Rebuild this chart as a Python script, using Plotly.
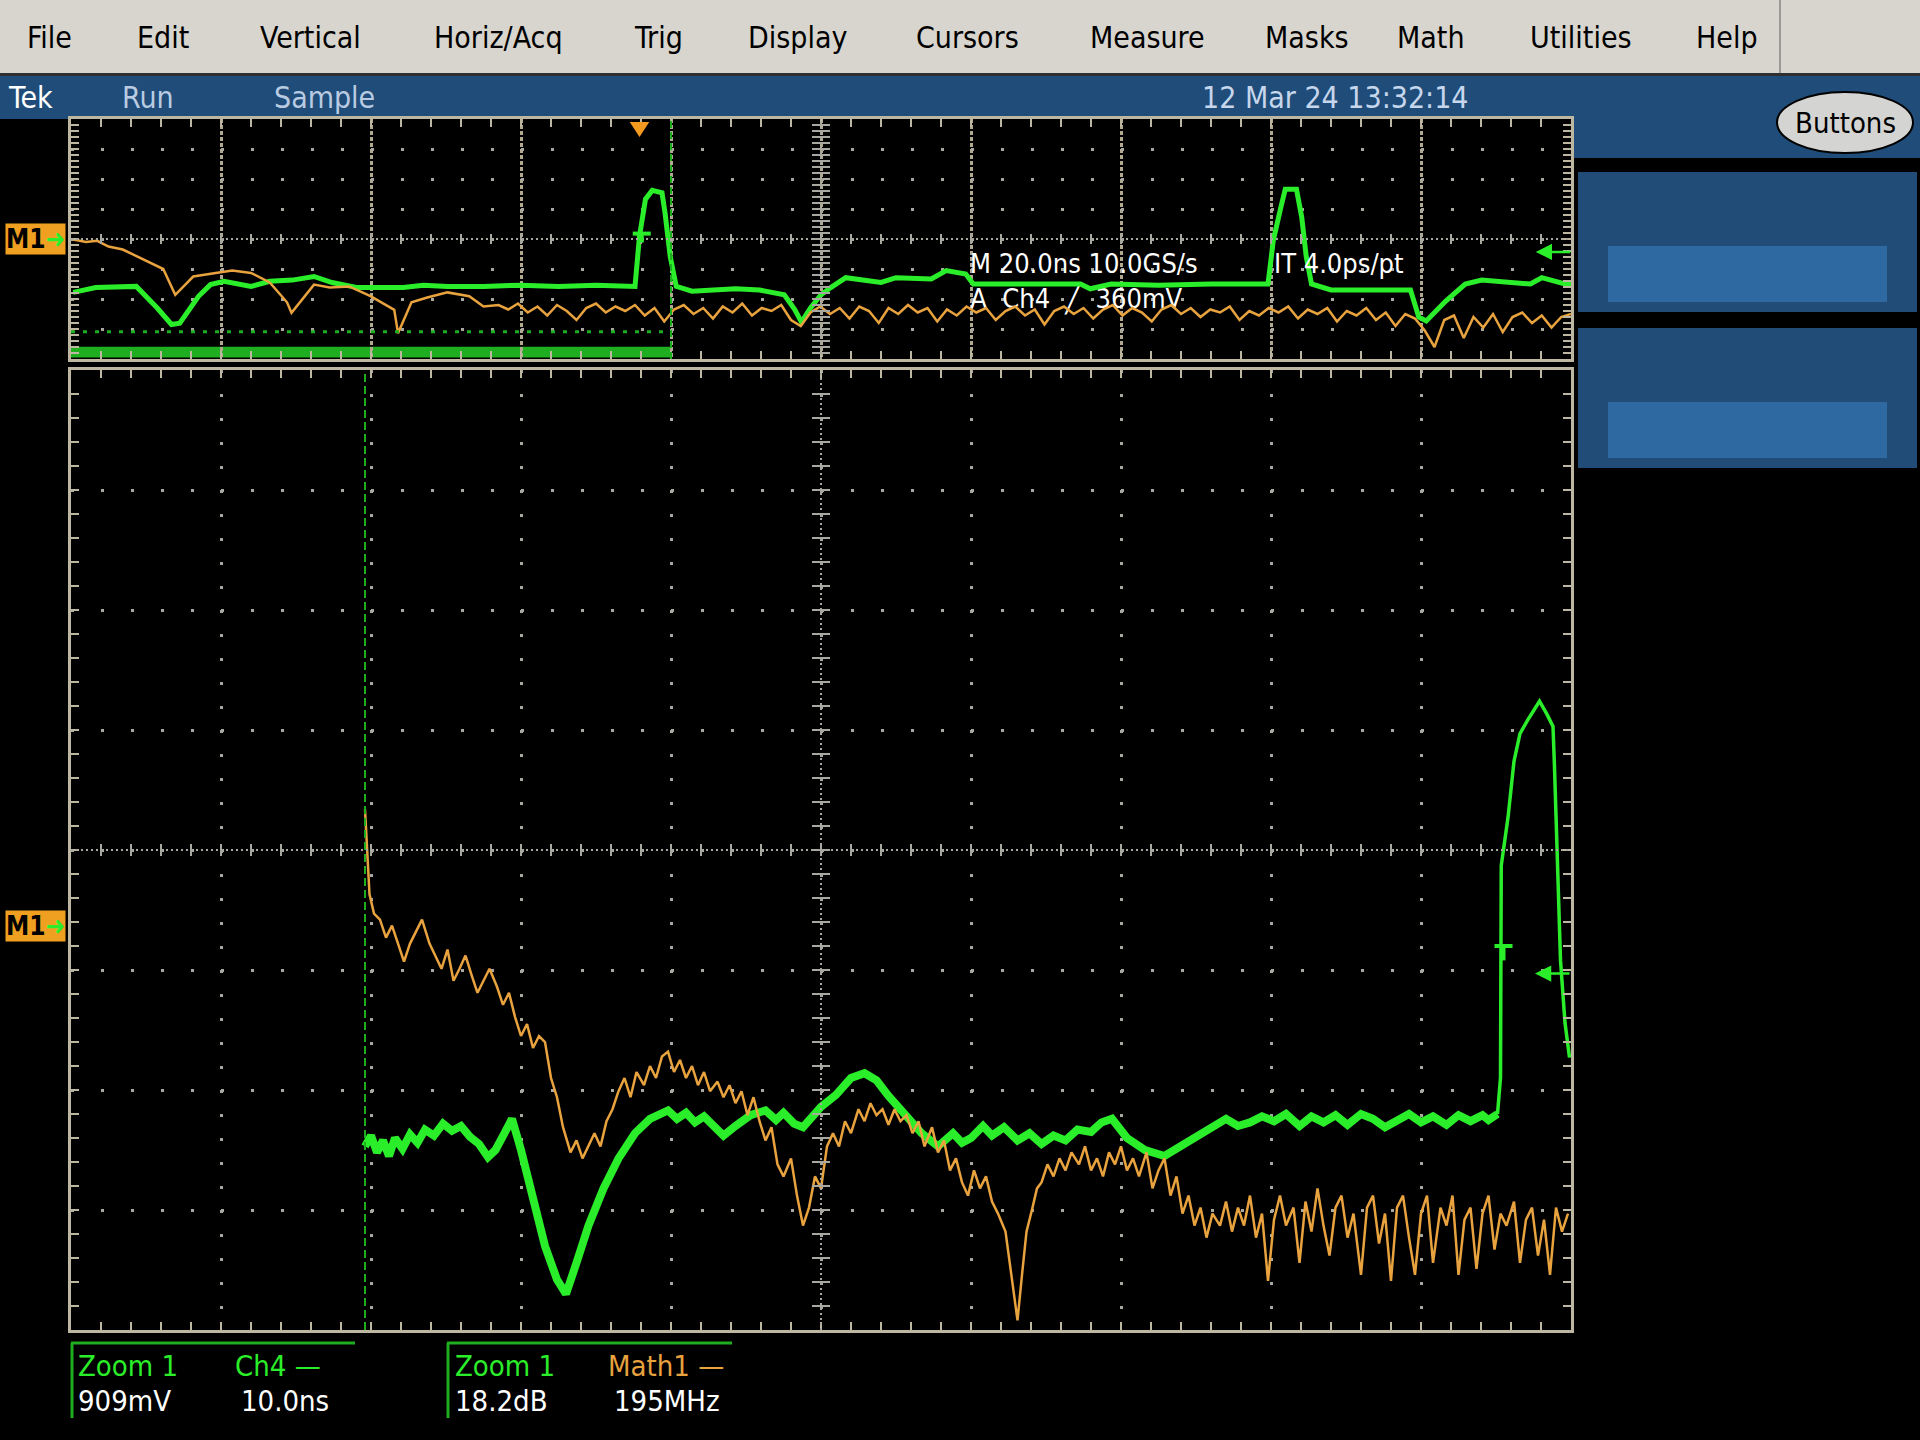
import plotly.graph_objects as go

W, H = 1920, 1440
FONT = "Liberation Sans Narrow, DejaVu Sans Condensed, Arial Narrow, sans-serif"

GREEN = "#2bee2b"
DKGREEN = "#1fae1f"
ORANGE = "#e8a23e"
GRID = "#a8a8a0"
FRAME = "#bdb6a0"
BLUE = "#1f4c78"

# ---- texts ----
MENU_ITEMS = ["File", "Edit", "Vertical", "Horiz/Acq", "Trig", "Display",
              "Cursors", "Measure", "Masks", "Math", "Utilities", "Help"]
STATUS_ITEMS = ["Tek", "Run", "Sample"]
DATE_STAMP = "12 Mar 24 13:32:14"
READOUT_1 = "M 20.0ns 10.0GS/s"
READOUT_2 = "IT 4.0ps/pt"
READOUT_3 = "A  Ch4  ╱  360mV"
ZOOM_CH4 = ["Zoom 1", "Ch4 —", "909mV", "10.0ns"]
ZOOM_MATH1 = ["Zoom 1", "Math1 —", "18.2dB", "195MHz"]

# ---- overview record (top window), t in ns (20 ns/div), v in divisions ----
OV_CH4 = [
    (0.3, -1.78), (3.3, -1.62), (8.7, -1.58), (9.8, -1.86), (11.5, -2.30), (13.4, -2.85),
    (14.5, -2.81), (17.0, -1.91), (18.6, -1.52), (20.4, -1.41), (24.0, -1.58), (26.5, -1.41),
    (29.5, -1.37), (32.4, -1.25), (34.8, -1.45), (38.2, -1.62), (44.3, -1.62), (47.0, -1.54),
    (50.2, -1.58), (55.0, -1.58), (60.0, -1.54), (65.0, -1.58), (70.0, -1.54), (75.2, -1.58),
    (75.8, 0.10), (76.6, 1.33), (77.5, 1.62), (78.8, 1.54), (79.2, 0.88), (79.9, -0.59),
    (80.7, -1.58), (82.8, -1.74), (88.6, -1.66), (91.8, -1.70), (95.1, -1.86), (96.5, -2.35),
    (97.4, -2.77), (98.6, -2.30), (100.0, -1.86), (101.3, -1.62), (103.3, -1.29), (108.0, -1.45),
    (110.0, -1.29), (114.7, -1.33), (116.7, -1.05), (119.3, -1.17), (120.3, -1.50), (127.0, -1.50),
    (134.6, -1.50), (135.9, -1.66), (138.7, -1.50), (145.0, -1.54), (152.0, -1.50), (159.6, -1.50),
    (160.3, -0.06), (161.3, 1.04), (161.9, 1.66), (163.4, 1.66), (164.1, 0.72), (164.7, -0.59),
    (165.4, -1.50), (168.0, -1.70), (173.0, -1.70), (178.6, -1.70), (179.7, -2.60), (180.7, -2.73),
    (183.3, -2.07), (185.9, -1.50), (188.1, -1.37), (194.6, -1.50), (196.1, -1.29), (199.2, -1.50),
    (200.0, -1.50),
]
OV_MATH1 = [
    (0.3, -0.02), (2.0, -0.10), (3.5, -0.06), (5.0, -0.25), (6.9, -0.35), (8.7, -0.57),
    (10.5, -0.80), (12.3, -1.00), (13.9, -1.86), (16.3, -1.25), (19.3, -1.13), (21.5, -1.05),
    (24.0, -1.13), (26.5, -1.45), (28.8, -2.11), (29.4, -2.46), (32.4, -1.52), (34.5, -1.62),
    (37.1, -1.58), (40.0, -1.91), (43.1, -2.36), (43.6, -3.14), (45.4, -2.11), (47.5, -1.95),
    (50.2, -1.78), (53.1, -1.91), (55.0, -2.25),
    (57.0, -2.20), (58.3, -2.35), (59.6, -2.15), (60.9, -2.45), (62.2, -2.25), (63.5, -2.55),
    (64.8, -2.20), (66.1, -2.40), (67.4, -2.70), (68.7, -2.30), (70.0, -2.15), (71.3, -2.45),
    (72.6, -2.25), (73.9, -2.40), (75.2, -2.20), (76.5, -2.55), (77.8, -2.30), (79.1, -2.75),
    (80.4, -2.35), (81.7, -2.20), (83.0, -2.50), (84.3, -2.30), (85.6, -2.65), (86.9, -2.25),
    (88.2, -2.45), (89.5, -2.15), (90.8, -2.55), (92.1, -2.30), (93.4, -2.40), (94.7, -2.20),
    (96.0, -2.70), (97.3, -2.90), (98.6, -2.45), (99.9, -2.25), (101.2, -2.50), (102.5, -2.30),
    (103.8, -2.65), (105.1, -2.25), (106.4, -2.40), (107.7, -2.80), (109.0, -2.30), (110.3, -2.50),
    (111.6, -2.20), (112.9, -2.45), (114.2, -2.30), (115.5, -2.75), (116.8, -2.35), (118.1, -2.55),
    (119.4, -2.25), (120.7, -2.45), (122.0, -2.30), (123.3, -2.70), (124.6, -2.40), (125.9, -2.25),
    (127.2, -2.55), (128.5, -2.35), (129.8, -2.85), (131.1, -2.40), (132.4, -2.25), (133.7, -2.50),
    (135.0, -2.30), (136.3, -2.65), (137.6, -2.35), (138.9, -2.20), (140.2, -2.55), (141.5, -2.30),
    (142.8, -2.45), (144.1, -2.75), (145.4, -2.35), (146.7, -2.20), (148.0, -2.50), (149.3, -2.30),
    (150.6, -2.60), (151.9, -2.35), (153.2, -2.45), (154.5, -2.25), (155.8, -2.70), (157.1, -2.40),
    (158.4, -2.55), (159.7, -2.30), (161.0, -2.45), (162.3, -2.25), (163.6, -2.65), (164.9, -2.35),
    (166.2, -2.50), (167.5, -2.30), (168.8, -2.75), (170.1, -2.40), (171.4, -2.55), (172.7, -2.30),
    (174.0, -2.70), (175.3, -2.45), (176.6, -2.90), (177.9, -2.50), (179.2, -2.65), (180.5, -3.05),
    (181.8, -3.60), (183.1, -2.70), (184.4, -2.55), (185.7, -3.30), (187.0, -2.60), (188.3, -2.95),
    (189.6, -2.50), (190.9, -3.10), (192.2, -2.60), (193.5, -2.45), (194.8, -2.80), (196.1, -2.55),
    (197.4, -2.95), (198.7, -2.60), (200.0, -2.50),
]

# ---- zoom window (bottom), t in ns (10 ns/div), v in divisions ----
ZM_CH4 = [
    (19.6, -2.47), (20.0, -2.38), (20.4, -2.52), (20.8, -2.42), (21.2, -2.55), (21.6, -2.40),
    (22.1, -2.49), (22.6, -2.37), (23.1, -2.44), (23.6, -2.33), (24.2, -2.38), (24.8, -2.28),
    (25.4, -2.34), (26.0, -2.30), (26.6, -2.39), (27.2, -2.45), (27.8, -2.56), (28.3, -2.50),
    (28.9, -2.36), (29.4, -2.24), (30.0, -2.50), (30.8, -2.93), (31.6, -3.30), (32.4, -3.58),
    (33.0, -3.70), (33.7, -3.44), (34.5, -3.13), (35.5, -2.82), (36.5, -2.57), (37.6, -2.36),
    (38.6, -2.24), (39.8, -2.17), (40.4, -2.24), (41.0, -2.19), (41.6, -2.27), (42.2, -2.22),
    (42.9, -2.30), (43.5, -2.38), (44.3, -2.30), (45.3, -2.21), (46.3, -2.17), (47.0, -2.25),
    (47.5, -2.19), (48.2, -2.28), (48.8, -2.31), (49.4, -2.22), (50.0, -2.14), (51.0, -2.04),
    (52.0, -1.90), (52.9, -1.86), (53.7, -1.92), (54.5, -2.05), (55.6, -2.21), (56.7, -2.36),
    (57.8, -2.47), (58.8, -2.36), (59.4, -2.44), (60.0, -2.40), (60.8, -2.30), (61.4, -2.38),
    (62.2, -2.31), (63.1, -2.42), (63.9, -2.36), (64.7, -2.45), (65.5, -2.38), (66.3, -2.42),
    (67.1, -2.33), (68.0, -2.35), (68.7, -2.27), (69.4, -2.24), (70.4, -2.40), (71.6, -2.50),
    (72.9, -2.55), (74.1, -2.46), (75.3, -2.38), (76.2, -2.30), (77.0, -2.24), (77.8, -2.30),
    (78.6, -2.27), (79.4, -2.22), (80.2, -2.26), (81.0, -2.20), (81.9, -2.30), (82.7, -2.22),
    (83.5, -2.27), (84.3, -2.21), (85.1, -2.29), (86.0, -2.20), (86.8, -2.24), (87.6, -2.31),
    (88.4, -2.25), (89.2, -2.20), (90.0, -2.27), (90.8, -2.22), (91.7, -2.29), (92.5, -2.21),
    (93.3, -2.26), (94.1, -2.21), (94.5, -2.25), (95.1, -2.20),
    (95.3, -1.90), (95.35, -0.13), (95.8, 0.27), (96.2, 0.74), (96.6, 0.97), (97.1, 1.08),
    (97.9, 1.24), (98.4, 1.13), (98.8, 1.03), (98.9, 0.69), (99.1, -0.15), (99.3, -0.92),
    (99.6, -1.44), (99.9, -1.73),
]
ZM_MATH1 = [
    (19.6, 0.34), (19.8, -0.07), (19.9, -0.37), (20.2, -0.53), (20.6, -0.58), (21.0, -0.73),
    (21.4, -0.63), (21.8, -0.78), (22.2, -0.93), (22.6, -0.78), (23.0, -0.68), (23.4, -0.58),
    (23.9, -0.78), (24.3, -0.88), (24.7, -0.99), (25.1, -0.83), (25.5, -1.09), (25.9, -0.99),
    (26.3, -0.88), (26.7, -1.04), (27.1, -1.19), (27.5, -1.09), (27.9, -0.99), (28.4, -1.14),
    (28.8, -1.29), (29.2, -1.19), (29.6, -1.39), (30.0, -1.55), (30.4, -1.45), (30.8, -1.65),
    (31.2, -1.55), (31.6, -1.60), (32.0, -1.90), (32.4, -2.06), (32.8, -2.31), (33.3, -2.52),
    (33.7, -2.42), (34.1, -2.57), (34.5, -2.47), (34.9, -2.36), (35.3, -2.47), (35.7, -2.26),
    (36.1, -2.16), (36.5, -2.01), (36.9, -1.90), (37.3, -2.06), (37.7, -1.85), (38.2, -1.96),
    (38.6, -1.80), (39.0, -1.90), (39.4, -1.72), (39.8, -1.68), (40.2, -1.85), (40.6, -1.75),
    (41.0, -1.90), (41.4, -1.80), (41.8, -1.96), (42.2, -1.85), (42.6, -2.01), (43.1, -1.93),
    (43.5, -2.06), (43.9, -1.96), (44.3, -2.11), (44.7, -2.01), (45.1, -2.21), (45.5, -2.06),
    (45.9, -2.26), (46.3, -2.42), (46.7, -2.31), (47.1, -2.62), (47.5, -2.72), (48.0, -2.57),
    (48.4, -2.88), (48.8, -3.13), (49.2, -2.98), (49.6, -2.72), (50.0, -2.82), (50.4, -2.47),
    (50.8, -2.36), (51.2, -2.47), (51.6, -2.26), (52.0, -2.36), (52.5, -2.16), (52.9, -2.26),
    (53.3, -2.11), (53.7, -2.21), (54.1, -2.16), (54.5, -2.29), (54.9, -2.16), (55.3, -2.26),
    (55.7, -2.21), (56.1, -2.36), (56.5, -2.26), (56.9, -2.47), (57.4, -2.31), (57.8, -2.52),
    (58.2, -2.42), (58.6, -2.67), (59.0, -2.57), (59.4, -2.77), (59.8, -2.88), (60.2, -2.67),
    (60.6, -2.82), (61.0, -2.72), (61.4, -2.93), (61.8, -3.03), (62.3, -3.18), (62.7, -3.54),
    (63.1, -3.92), (63.4, -3.54), (63.7, -3.18), (64.1, -2.98), (64.4, -2.82), (64.7, -2.77),
    (65.1, -2.62), (65.5, -2.72), (65.9, -2.57), (66.3, -2.67), (66.7, -2.52), (67.2, -2.62),
    (67.6, -2.47), (68.0, -2.67), (68.4, -2.57), (68.8, -2.72), (69.2, -2.52), (69.6, -2.62),
    (70.0, -2.47), (70.4, -2.67), (70.8, -2.57), (71.2, -2.72), (71.7, -2.52), (72.1, -2.82),
    (72.5, -2.67), (72.9, -2.57), (73.3, -2.88), (73.7, -2.72), (74.1, -3.03), (74.5, -2.88),
    (74.9, -3.13), (75.3, -2.98), (75.7, -3.23), (76.1, -3.03), (76.6, -3.13), (77.0, -2.93),
    (77.4, -3.18), (77.8, -2.98), (78.2, -3.13), (78.6, -2.88), (79.0, -3.23), (79.4, -3.03),
    (79.8, -3.59), (80.2, -3.08), (80.6, -2.88), (81.0, -3.13), (81.5, -2.98), (81.9, -3.44),
    (82.3, -2.93), (82.7, -3.18), (83.1, -2.82), (83.5, -3.13), (83.9, -3.38), (84.3, -2.98),
    (84.7, -2.88), (85.1, -3.23), (85.5, -3.03), (86.0, -3.54), (86.4, -2.98), (86.8, -2.88),
    (87.2, -3.28), (87.6, -3.03), (88.0, -3.59), (88.4, -2.98), (88.8, -2.88), (89.2, -3.23),
    (89.6, -3.54), (90.0, -3.03), (90.4, -2.88), (90.8, -3.44), (91.3, -2.98), (91.7, -3.13),
    (92.1, -2.88), (92.5, -3.54), (92.9, -3.08), (93.3, -2.98), (93.7, -3.49), (94.1, -3.03),
    (94.5, -2.88), (94.9, -3.33), (95.3, -3.03), (95.7, -3.13), (96.2, -2.93), (96.6, -3.44),
    (97.0, -3.08), (97.4, -2.98), (97.8, -3.38), (98.2, -3.08), (98.6, -3.54), (99.0, -2.98),
    (99.4, -3.18), (99.8, -3.03),
]


def pxx(x):
    return x / W


def pxy(y):
    return 1 - y / H


# screen geometry in pixels
X0, X1 = 71, 1571
TOP0, TOP1 = 119, 359
BOT0, BOT1 = 370, 1330

fig = go.Figure()

# readout line that the traces run over
fig.add_trace(go.Scatter(x=[119.9], y=[-2.07], mode="text", text=[READOUT_3],
                         textposition="middle right",
                         textfont=dict(color="white", size=27, family=FONT),
                         xaxis="x", yaxis="y", hoverinfo="skip", showlegend=False))

ov_t, ov_v = zip(*OV_CH4)
fig.add_trace(go.Scatter(x=ov_t, y=ov_v, mode="lines", line=dict(color=GREEN, width=5),
                         xaxis="x", yaxis="y", hoverinfo="skip", showlegend=False))
ov_t, ov_v = zip(*OV_MATH1)
fig.add_trace(go.Scatter(x=ov_t, y=ov_v, mode="lines", line=dict(color=ORANGE, width=2.5),
                         xaxis="x", yaxis="y", hoverinfo="skip", showlegend=False))

# zoom Ch4: noisy baseline is a thick band, the fast edge is thin
split = next(i for i, p in enumerate(ZM_CH4) if p[0] >= 95.1)
zt, zv = zip(*ZM_CH4[:split + 1])
fig.add_trace(go.Scatter(x=zt, y=zv, mode="lines", line=dict(color=GREEN, width=8),
                         xaxis="x2", yaxis="y2", hoverinfo="skip", showlegend=False))
zt, zv = zip(*ZM_CH4[split:])
fig.add_trace(go.Scatter(x=zt, y=zv, mode="lines", line=dict(color=GREEN, width=3.5),
                         xaxis="x2", yaxis="y2", hoverinfo="skip", showlegend=False))
zt, zv = zip(*ZM_MATH1)
fig.add_trace(go.Scatter(x=zt, y=zv, mode="lines", line=dict(color=ORANGE, width=2.5),
                         xaxis="x2", yaxis="y2", hoverinfo="skip", showlegend=False))

axis_common = dict(showticklabels=False, zeroline=False, showline=True, linecolor=FRAME,
                   linewidth=3, mirror="ticks", ticks="inside", ticklen=8, tickwidth=2,
                   tickcolor=FRAME, showgrid=True, gridwidth=2.5)

fig.update_layout(
    width=W, height=H, margin=dict(l=0, r=0, t=0, b=0),
    paper_bgcolor="black", plot_bgcolor="black", showlegend=False,
    xaxis=dict(domain=[pxx(X0), pxx(X1)], range=[0, 200], dtick=20, anchor="y",
               gridcolor="#b0a98f", griddash="4px,2px",
               minor=dict(dtick=4, ticks="inside", ticklen=8, tickwidth=2, tickcolor=FRAME),
               **axis_common),
    yaxis=dict(domain=[pxy(TOP1), pxy(TOP0)], range=[-4, 4], dtick=1, anchor="x",
               gridcolor=GRID, griddash="3px,27px",
               minor=dict(dtick=0.2, ticks="inside", ticklen=8, tickwidth=2, tickcolor=FRAME),
               **axis_common),
    xaxis2=dict(domain=[pxx(X0), pxx(X1)], range=[0, 100], dtick=10, anchor="y2",
                gridcolor=GRID, griddash="3px,21px",
                minor=dict(dtick=2, ticks="inside", ticklen=8, tickwidth=2, tickcolor=FRAME),
                **axis_common),
    yaxis2=dict(domain=[pxy(BOT1), pxy(BOT0)], range=[-4, 4], dtick=1, anchor="x2",
                gridcolor=GRID, griddash="3px,27px",
                minor=dict(dtick=0.2, ticks="inside", ticklen=8, tickwidth=2, tickcolor=FRAME),
                **axis_common),
)

shapes = []


def rect(x0, y0, x1, y1, fill, line=None, kind="rect"):
    shapes.append(dict(type=kind, xref="paper", yref="paper",
                       x0=pxx(x0), x1=pxx(x1), y0=pxy(y1), y1=pxy(y0),
                       fillcolor=fill, line=line or dict(width=0), layer="below"))


# menu bar, status bar and side panel
rect(0, 0, W, 73, "#d8d5ce")
rect(0, 73, W, 76, "#303030")
rect(0, 76, W, 119, BLUE)
rect(1573, 119, W, 158, BLUE)
rect(1578, 172, 1917, 312, "#214c77")
rect(1608, 246, 1887, 302, "#2f69a2")
rect(1578, 328, 1917, 468, "#214c77")
rect(1608, 402, 1887, 458, "#2f69a2")
shapes.append(dict(type="line", xref="paper", yref="paper", x0=pxx(1780), x1=pxx(1780),
                   y0=pxy(73), y1=pxy(0), line=dict(color="#9c9a94", width=2)))
shapes.append(dict(type="circle", xref="paper", yref="paper", x0=pxx(1777), x1=pxx(1913),
                   y0=pxy(153), y1=pxy(92), fillcolor="#d4d4d2",
                   line=dict(color="black", width=2)))


def centre_cross(xa, ya, xr, xstep, xhalf, yhalf):
    xm = (xr[0] + xr[1]) / 2
    dash = dict(color=GRID, width=2, dash="2px,3px")
    shapes.append(dict(type="line", xref=xa, yref=ya, x0=xr[0], x1=xr[1], y0=0, y1=0, line=dash))
    shapes.append(dict(type="line", xref=xa, yref=ya, x0=xm, x1=xm, y0=-4, y1=4, line=dash))
    tick = dict(color=GRID, width=2)
    for i in range(1, 50):
        x = xr[0] + i * xstep
        shapes.append(dict(type="line", xref=xa, yref=ya, x0=x, x1=x, y0=-yhalf, y1=yhalf, line=tick))
    for i in range(1, 40):
        y = -4 + i * 0.2
        shapes.append(dict(type="line", xref=xa, yref=ya, x0=xm - xhalf, x1=xm + xhalf, y0=y, y1=y, line=tick))


centre_cross("x", "y", (0, 200), 4, 1.2, 0.17)
centre_cross("x2", "y2", (0, 100), 2, 0.6, 0.05)

# zoom-region markers in the overview
shapes.append(dict(type="rect", xref="x", yref="y", x0=0, x1=80, y0=-3.95, y1=-3.59,
                   fillcolor=DKGREEN, line=dict(width=0), layer="below"))
shapes.append(dict(type="line", xref="x", yref="y", x0=0, x1=80, y0=-3.09, y1=-3.09,
                   line=dict(color=DKGREEN, width=3, dash="4px,8px")))
shapes.append(dict(type="line", xref="x", yref="y", x0=80, x1=80, y0=-4, y1=4,
                   line=dict(color=DKGREEN, width=2, dash="7px,4px")))
shapes.append(dict(type="line", xref="x2", yref="y2", x0=19.6, x1=19.6, y0=-4, y1=4,
                   line=dict(color=DKGREEN, width=2, dash="8px,4px")))

# trigger position and trigger level markers
shapes.append(dict(type="path", xref="x", yref="paper",
                   path=f"M 74.5,{pxy(122)} L 77.1,{pxy(122)} L 75.8,{pxy(137)} Z",
                   fillcolor="#f39a1e", line=dict(width=0)))
for xa, ya, xc, yc, hw, sl in [("x", "y", 76.1, 0.18, 1.2, 0.3), ("x2", "y2", 95.5, -0.80, 0.6, 0.12)]:
    shapes.append(dict(type="line", xref=xa, yref=ya, x0=xc - hw, x1=xc + hw, y0=yc, y1=yc,
                       line=dict(color=GREEN, width=4)))
    shapes.append(dict(type="line", xref=xa, yref=ya, x0=xc, x1=xc, y0=yc, y1=yc - sl,
                       line=dict(color=GREEN, width=4)))

# readout boxes under the zoom window
for x0, x1 in [(71, 355), (447, 732)]:
    shapes.append(dict(type="line", xref="paper", yref="paper", x0=pxx(x0), x1=pxx(x1),
                       y0=pxy(1343), y1=pxy(1343), line=dict(color=DKGREEN, width=3)))
    shapes.append(dict(type="line", xref="paper", yref="paper", x0=pxx(x0 + 1), x1=pxx(x0 + 1),
                       y0=pxy(1343), y1=pxy(1418), line=dict(color=DKGREEN, width=3)))

fig.update_layout(shapes=shapes)

ann = []


def label(text, x, y, color="black", size=30, xanchor="left", **kw):
    ann.append(dict(text=text, x=pxx(x), y=pxy(y), xref="paper", yref="paper",
                    xanchor=xanchor, yanchor="middle", showarrow=False,
                    font=dict(family=FONT, size=size, color=color), **kw))


for item, cx in zip(MENU_ITEMS, [49, 163, 310, 498, 658, 798, 967, 1147, 1307, 1431, 1581, 1727]):
    label(item, cx, 37, xanchor="center")
for item, lx, col in zip(STATUS_ITEMS, [6, 120, 272], ["white", "#b9cbe2", "#b9cbe2"]):
    label(item, lx, 98, color=col)
label(DATE_STAMP, 1200, 98, color="#c6d6ec")
label("Buttons", 1845, 123, xanchor="center", size=29)

label(READOUT_1, 968, 263, color="white", size=27)
label(READOUT_2, 1272, 263, color="white", size=27)

label(ZOOM_CH4[0], 76, 1366, color=GREEN, size=29)
label(ZOOM_CH4[1], 233, 1366, color=GREEN, size=29)
label(ZOOM_CH4[2], 76, 1401, color="white", size=29)
label(ZOOM_CH4[3], 239, 1401, color="white", size=29)
label(ZOOM_MATH1[0], 453, 1366, color=GREEN, size=29)
label(ZOOM_MATH1[1], 606, 1366, color=ORANGE, size=29)
label(ZOOM_MATH1[2], 453, 1401, color="white", size=29)
label(ZOOM_MATH1[3], 612, 1401, color="white", size=29)

# reference markers at the left edge
for yc in [239, 926]:
    label(f"<b>M1</b><span style='color:{GREEN}'>➜</span>", 5, yc, color="black", size=26,
          bgcolor="#f0a020", borderpad=0)

# Ch4 trigger level arrows at the right edge
for xa, ya, xt, yt in [("x", "y", 195.3, -0.43), ("x2", "y2", 97.6, -1.03)]:
    ann.append(dict(text="", x=xt, y=yt, xref=xa, yref=ya, ax=36, ay=0, showarrow=True,
                    arrowhead=2, arrowsize=1.3, arrowwidth=2.5, arrowcolor=GREEN))

fig.update_layout(annotations=ann)

fig.write_html("out.html", config={"displayModeBar": False},
               post_script="document.body.style.margin='0';document.body.style.overflow='hidden';")
